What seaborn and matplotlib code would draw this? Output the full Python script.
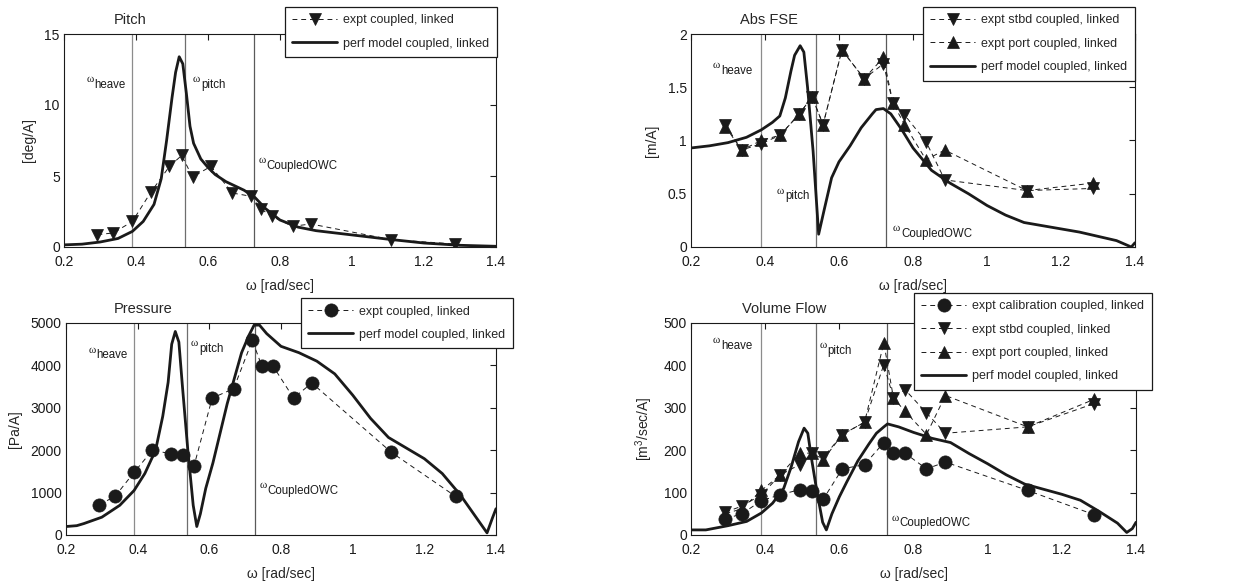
import matplotlib
matplotlib.use("Agg")
import matplotlib.pyplot as plt
import seaborn as sns

# ---------------- data ----------------
w_expt = [0.293, 0.337, 0.39, 0.441, 0.493, 0.527, 0.557, 0.608, 0.668, 0.72,
          0.746, 0.777, 0.835, 0.886, 1.108, 1.287]

pitch_expt = [0.87, 0.99, 1.8, 3.85, 5.68, 6.45, 4.93, 5.68, 3.8, 3.57,
              2.7, 2.16, 1.46, 1.62, 0.52, 0.21]
w_pitch_model = [0.2, 0.25, 0.3, 0.35, 0.39, 0.42, 0.45, 0.47, 0.485, 0.5, 0.51, 0.52,
                 0.53, 0.54, 0.55, 0.56, 0.58, 0.6, 0.62, 0.65, 0.7, 0.73, 0.76, 0.8,
                 0.85, 0.9, 1.0, 1.1, 1.2, 1.3, 1.4]
pitch_model = [0.15, 0.2, 0.35, 0.6, 1.1, 1.8, 3.0, 4.8, 7.5, 10.5, 12.3, 13.4,
               12.9, 10.8, 8.5, 7.3, 6.2, 5.6, 5.1, 4.6, 4.0, 3.5, 2.7, 1.9,
               1.4, 1.15, 0.85, 0.55, 0.28, 0.12, 0.05]

fse_stbd = [1.15, 0.91, 0.97, 1.05, 1.25, 1.41, 1.15, 1.85, 1.58, 1.72,
            1.35, 1.24, 0.99, 0.63, 0.53, 0.55]
fse_port = [1.13, 0.91, 1.0, 1.05, 1.25, 1.41, 1.15, 1.85, 1.58, 1.78,
            1.35, 1.15, 0.82, 0.91, 0.53, 0.60]
w_fse_model = [0.2, 0.25, 0.3, 0.35, 0.39, 0.42, 0.44, 0.455, 0.47, 0.48, 0.495, 0.505,
               0.515, 0.53, 0.545, 0.56, 0.58, 0.6, 0.63, 0.66, 0.69, 0.7, 0.72, 0.74,
               0.77, 0.8, 0.85, 0.9, 0.95, 1.0, 1.05, 1.1, 1.15, 1.2, 1.25, 1.3, 1.35,
               1.39, 1.4]
fse_model = [0.93, 0.95, 0.98, 1.03, 1.1, 1.17, 1.23, 1.4, 1.65, 1.8, 1.89, 1.83,
             1.5, 0.9, 0.12, 0.35, 0.65, 0.8, 0.95, 1.12, 1.25, 1.29, 1.3, 1.25,
             1.1, 0.93, 0.72, 0.6, 0.5, 0.39, 0.3, 0.23, 0.2, 0.17, 0.14, 0.1, 0.06,
             0.0, 0.04]

pressure_expt = [715, 912, 1478, 1997, 1918, 1895, 1620, 3231, 3451, 4591,
                 3994, 3994, 3231, 3585, 1950, 912]
w_pressure_model = [0.2, 0.23, 0.25, 0.3, 0.35, 0.39, 0.42, 0.45, 0.47, 0.485, 0.495,
                    0.505, 0.515, 0.525, 0.54, 0.555, 0.565, 0.575, 0.59, 0.61, 0.63,
                    0.65, 0.67, 0.69, 0.71, 0.725, 0.74, 0.76, 0.8, 0.85, 0.9, 0.95,
                    1.0, 1.05, 1.1, 1.15, 1.2, 1.25, 1.3, 1.35, 1.375, 1.39, 1.4]
pressure_model = [200, 220, 270, 420, 700, 1050, 1450, 2000, 2800, 3600, 4500,
                  4800, 4550, 3500, 2000, 700, 200, 500, 1100, 1700, 2400,
                  3100, 3700, 4300, 4700, 4950, 4950, 4750, 4450, 4300, 4100, 3800,
                  3300, 2750, 2300, 2050, 1800, 1450, 950, 350, 50, 400, 620]

flow_cal = [38, 50, 81, 95, 107, 103, 85, 156, 166, 218, 193, 193, 156, 172, 105, 48]
flow_stbd = [54, 68, 95, 142, 166, 193, 183, 237, 266, 402, 323, 343, 288, 240, 255, 310]
flow_port = [50, 62, 105, 142, 193, 193, 178, 237, 266, 453, 323, 292, 237, 329, 255, 320]
w_flow_model = [0.2, 0.24, 0.3, 0.35, 0.39, 0.42, 0.45, 0.47, 0.49, 0.505, 0.515, 0.525,
                0.54, 0.555, 0.565, 0.58, 0.6, 0.62, 0.65, 0.68, 0.7, 0.72, 0.73, 0.76,
                0.8, 0.85, 0.9, 0.95, 1.0, 1.05, 1.1, 1.15, 1.2, 1.25, 1.3, 1.35, 1.375,
                1.39, 1.4]
flow_model = [12, 12, 22, 32, 52, 75, 110, 160, 220, 252, 240, 180,
              100, 30, 12, 50, 90, 125, 175, 215, 240, 255, 262, 255,
              242, 228, 218, 192, 168, 142, 120, 108, 96, 82, 56, 28, 6,
              15, 30]

w_heave, w_pitch, w_owc = 0.39, 0.537, 0.728

titles = ["Pitch", "Abs FSE", "Pressure", "Volume Flow"]
ylabels = ["[deg/A]", "[m/A]", "[Pa/A]", r"[m$^3$/sec/A]"]
xlabel = "ω [rad/sec]"
xticks = [0.2, 0.4, 0.6, 0.8, 1.0, 1.2, 1.4]
xticklabels = ["0.2", "0.4", "0.6", "0.8", "1", "1.2", "1.4"]

# ---------------- style ----------------
sns.set_theme(style="white")
plt.rcParams["font.family"] = ["Liberation Sans", "DejaVu Sans"]
plt.rcParams["mathtext.fontset"] = "custom"
plt.rcParams["mathtext.rm"] = "Liberation Sans"
plt.rcParams["mathtext.it"] = "Liberation Sans:italic"
plt.rcParams["mathtext.sf"] = "Liberation Sans"

W, H = 1252, 586
fig = plt.figure(figsize=(W / 100, H / 100), dpi=100)


def px_axes(l, t, r, b):
    return fig.add_axes([l / W, 1 - b / H, (r - l) / W, (b - t) / H])


ax1 = px_axes(64, 34, 496, 247)
ax2 = px_axes(691, 34, 1135, 247)
ax3 = px_axes(66, 323, 496, 535)
ax4 = px_axes(691, 323, 1136, 535)
axes = [ax1, ax2, ax3, ax4]

exp_kw = dict(color="k", lw=0.7, linestyle=(0, (5, 4)),
              markerfacecolor="k", markeredgecolor="k", markeredgewidth=0.5)
mod_kw = dict(color="k", lw=2.0)

# Pitch
sns.lineplot(x=w_expt, y=pitch_expt, ax=ax1, marker="v", markersize=8,
             label="expt coupled, linked", **exp_kw)
sns.lineplot(x=w_pitch_model, y=pitch_model, ax=ax1, label="perf model coupled, linked", **mod_kw)

# Abs FSE
sns.lineplot(x=w_expt, y=fse_stbd, ax=ax2, marker="v", markersize=8,
             label="expt stbd coupled, linked", **exp_kw)
sns.lineplot(x=w_expt, y=fse_port, ax=ax2, marker="^", markersize=8,
             label="expt port coupled, linked", **exp_kw)
sns.lineplot(x=w_fse_model, y=fse_model, ax=ax2, label="perf model coupled, linked", **mod_kw)

# Pressure
sns.lineplot(x=w_expt, y=pressure_expt, ax=ax3, marker="o", markersize=9.5,
             label="expt coupled, linked", **exp_kw)
sns.lineplot(x=w_pressure_model, y=pressure_model, ax=ax3, label="perf model coupled, linked", **mod_kw)

# Volume flow
sns.lineplot(x=w_expt, y=flow_cal, ax=ax4, marker="o", markersize=9.5,
             label="expt calibration coupled, linked", **exp_kw)
sns.lineplot(x=w_expt, y=flow_stbd, ax=ax4, marker="v", markersize=8,
             label="expt stbd coupled, linked", **exp_kw)
sns.lineplot(x=w_expt, y=flow_port, ax=ax4, marker="^", markersize=8,
             label="expt port coupled, linked", **exp_kw)
sns.lineplot(x=w_flow_model, y=flow_model, ax=ax4, label="perf model coupled, linked", **mod_kw)

ylims = [(0, 15), (0, 2), (0, 5000), (0, 500)]
yticks = [[0, 5, 10, 15], [0, 0.5, 1, 1.5, 2], [0, 1000, 2000, 3000, 4000, 5000],
          [0, 100, 200, 300, 400, 500]]
yticklabels = [["0", "5", "10", "15"], ["0", "0.5", "1", "1.5", "2"],
               ["0", "1000", "2000", "3000", "4000", "5000"],
               ["0", "100", "200", "300", "400", "500"]]

# omega label positions (data coords): heave, pitch, coupled
omega_pos = [
    [(0.262, 11.6), (0.558, 11.6), (0.74, 5.9)],
    [(0.258, 1.68), (0.432, 0.5), (0.745, 0.15)],
    [(0.262, 4300), (0.548, 4450), (0.74, 1100)],
    [(0.258, 452), (0.546, 440), (0.74, 34)],
]
subs = ["heave", "pitch", "CoupledOWC"]

title_x = [0.153, 0.175, 0.18, 0.21]

for i, ax in enumerate(axes):
    for wv, col in [(w_heave, "#8c8c8c"), (w_pitch, "#6e6e6e"), (w_owc, "#5a5a5a")]:
        ax.axvline(wv, color=col, lw=0.9, zorder=1)
    ax.set_xlim(0.2, 1.4)
    ax.set_ylim(*ylims[i])
    ax.set_xticks(xticks)
    ax.set_xticklabels(xticklabels)
    ax.set_yticks(yticks[i])
    ax.set_yticklabels(yticklabels[i])
    ax.tick_params(direction="in", top=True, right=True, length=4, width=0.8,
                   labelsize=10, colors="k")
    ax.tick_params(axis="x", pad=6)
    ax.tick_params(axis="y", pad=3)
    for s in ax.spines.values():
        s.set_color("k")
        s.set_linewidth(0.8)
    ax.set_xlabel(xlabel, fontsize=10, labelpad=7)
    ax.set_ylabel(ylabels[i], fontsize=10, labelpad=6)
    ax.text(title_x[i], 1.035, titles[i], transform=ax.transAxes, ha="center",
            va="bottom", fontsize=10.5)
    for (xx, yy), sub in zip(omega_pos[i], subs):
        ax.text(xx, yy, "ω", fontsize=8, family=["Liberation Serif"], ha="left",
                va="baseline", color="k")
        ax.annotate(sub, xy=(xx, yy), xytext=(6.0, -4), textcoords="offset points",
                    fontsize=8.3, ha="left", va="baseline", color="k")

leg_anchor = [(497, 7), (1135, 7), (513, 298), (1152, 293)]
for ax, (rx, ty) in zip(axes, leg_anchor):
    h, l = ax.get_legend_handles_labels()
    leg = ax.legend(h, l, loc="upper right", bbox_to_anchor=(rx / W, 1 - ty / H),
                    bbox_transform=fig.transFigure, fontsize=9, frameon=True,
                    fancybox=False, framealpha=1, edgecolor="k", handlelength=3.6,
                    labelspacing=0.9, borderpad=0.6, handletextpad=0.5,
                    borderaxespad=0)
    leg.get_frame().set_linewidth(0.9)
    leg.set_zorder(10)

fig.savefig("out.png", dpi=100)
